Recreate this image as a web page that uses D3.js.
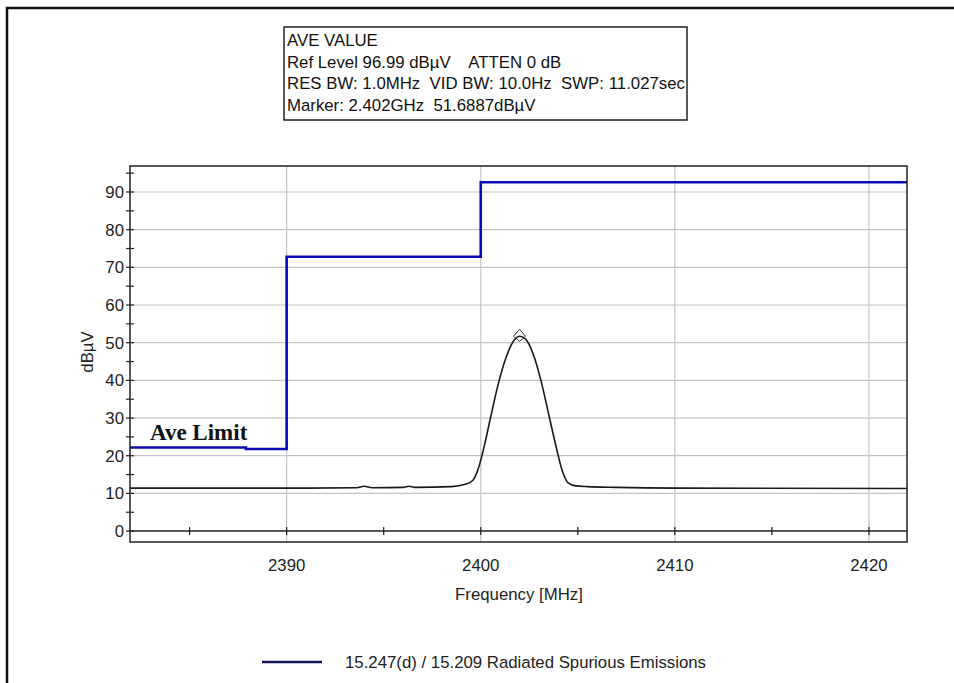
<!DOCTYPE html>
<html><head><meta charset="utf-8">
<script src="https://cdn.jsdelivr.net/npm/d3@7"></script>
<style>body{margin:0;background:#fff}svg{display:block}</style>
</head><body><svg id="c" width="954" height="683"></svg>
<script>
// ---- data ----
const infoLines = ["AVE VALUE","Ref Level 96.99 dBµV    ATTEN 0 dB","RES BW: 1.0MHz  VID BW: 10.0Hz  SWP: 11.027sec","Marker: 2.402GHz  51.6887dBµV"];
const xTicks = [2390, 2400, 2410, 2420];
const xMinor = [2385, 2395, 2405, 2415];
const yTicks = [0, 10, 20, 30, 40, 50, 60, 70, 80, 90];
const yMinor = [5, 15, 25, 35, 45, 55, 65, 75, 85, 95];
const limitFreq = [2381.93, 2387.9, 2387.9, 2390, 2390, 2400, 2400, 2421.96];
const limitLevel = [22.2, 22.2, 21.8, 21.8, 72.8, 72.8, 92.6, 92.6];
const traceFreq = [2381.93,2386,2390,2393.6,2394,2394.4,2396,2396.3,2396.6,2398.5,2399.2,2399.6,2399.9,2400.2,2400.5,2400.9,2401.3,2401.7,2402.0,2402.3,2402.7,2403.1,2403.5,2403.9,2404.2,2404.5,2404.9,2405.5,2407,2410,2421.96];
const traceLevel = [11.4,11.4,11.4,11.5,11.9,11.5,11.6,11.9,11.6,11.8,12.4,13.5,17,23,30,39,46,50.5,51.7,51,47,40,31,22,16,12.8,12.0,11.8,11.6,11.4,11.3];
const markerFreq = 2402.0, markerLevel = 51.69;
const legendLabel = "15.247(d) / 15.209 Radiated Spurious Emissions";
const limitLabel = "Ave Limit";

// ---- layout ----
const svg = d3.select("#c");
const L = 130, R = 907, T = 166, B = 542;
const x = d3.scaleLinear().domain([2381.93, 2421.96]).range([L, R]);
const y = d3.scaleLinear().domain([-2.9, 96.9]).range([B, T]);
const font = "Arial, 'Liberation Sans', sans-serif";
const fs = 16.8;

// outer frame (left + top)
svg.append("path").attr("d","M7,683 V8 H954").attr("fill","none").attr("stroke","#111").attr("stroke-width",2.5);

// info box
const ib = svg.append("g");
ib.append("rect").attr("x",284).attr("y",27).attr("width",403).attr("height",93)
  .attr("fill","#fff").attr("stroke","#222").attr("stroke-width",1.5);
ib.selectAll("text").data(infoLines).join("text")
  .attr("x",287).attr("y",(d,i)=>46+i*21.5)
  .attr("font-family",font).attr("font-size",fs).attr("fill","#111")
  .attr("textLength", (d,i)=> i===2 ? 398 : null)
  .attr("xml:space","preserve").style("white-space","pre").text(d=>d);

// grid
const g = svg.append("g");
g.selectAll(".gx").data(xTicks).join("line")
  .attr("x1",d=>x(d)).attr("x2",d=>x(d)).attr("y1",T).attr("y2",B)
  .attr("stroke","#c4c4c4").attr("stroke-width",1.2);
g.selectAll(".gy").data(yTicks.filter(v=>v>0)).join("line")
  .attr("x1",L).attr("x2",R).attr("y1",d=>y(d)).attr("y2",d=>y(d))
  .attr("stroke","#c4c4c4").attr("stroke-width",1.2);

// zero axis line
g.append("line").attr("x1",L).attr("x2",R).attr("y1",y(0)).attr("y2",y(0)).attr("stroke","#222").attr("stroke-width",1.5);
// x ticks crossing zero line
g.selectAll(".tx").data(xTicks.concat(xMinor)).join("line")
  .attr("x1",d=>x(d)).attr("x2",d=>x(d)).attr("y1",y(0)-4).attr("y2",y(0)+4)
  .attr("stroke","#222").attr("stroke-width",1.2);
// y ticks crossing left axis
g.selectAll(".ty").data(yTicks.concat(yMinor)).join("line")
  .attr("x1",L-4).attr("x2",L+4).attr("y1",d=>y(d)).attr("y2",d=>y(d))
  .attr("stroke","#222").attr("stroke-width",1.2);

// tick labels
g.selectAll(".ly").data(yTicks).join("text")
  .attr("x",L-6).attr("y",d=>y(d)+6).attr("text-anchor","end")
  .attr("font-family",font).attr("font-size",fs).attr("fill","#222").text(d=>d);
g.selectAll(".lx").data(xTicks).join("text")
  .attr("x",d=>x(d)).attr("y",571).attr("text-anchor","middle")
  .attr("font-family",font).attr("font-size",fs).attr("fill","#222").text(d=>d);

// axis titles
svg.append("text").attr("transform","translate(93,352) rotate(-90)").attr("text-anchor","middle")
  .attr("font-family",font).attr("font-size",fs).attr("fill","#222").text("dBµV");
svg.append("text").attr("x",519).attr("y",600).attr("text-anchor","middle")
  .attr("font-family",font).attr("font-size",fs).attr("fill","#222").text("Frequency [MHz]");

// clip
svg.append("clipPath").attr("id","clip").append("rect").attr("x",L).attr("y",T).attr("width",R-L).attr("height",B-T);
const plot = svg.append("g").attr("clip-path","url(#clip)");

// trace
const tr = traceFreq.map((f,i)=>[f,traceLevel[i]]);
plot.append("path").datum(tr)
  .attr("d", d3.line().x(d=>x(d[0])).y(d=>y(d[1])).curve(d3.curveMonotoneX))
  .attr("fill","none").attr("stroke","#1a1a1a").attr("stroke-width",1.6);

// marker diamond
const mx = x(markerFreq), my = y(markerLevel);
plot.append("path").attr("d",`M${mx},${my-7} L${mx+6},${my} L${mx},${my+5} L${mx-6},${my} Z`)
  .attr("fill","none").attr("stroke","#333").attr("stroke-width",1);

// limit line
const lim = limitFreq.map((f,i)=>[f,limitLevel[i]]);
plot.append("path").datum(lim)
  .attr("d", d3.line().x(d=>x(d[0])).y(d=>y(d[1])))
  .attr("fill","none").attr("stroke","#0a0ab4").attr("stroke-width",2.6);

// plot border
svg.append("rect").attr("x",L).attr("y",T).attr("width",R-L).attr("height",B-T)
  .attr("fill","none").attr("stroke","#222").attr("stroke-width",1.5);

// Ave Limit label
svg.append("text").attr("x",150).attr("y",440)
  .attr("font-family","'Liberation Serif', 'Times New Roman', serif").attr("font-weight","bold")
  .attr("font-size",23).attr("fill","#111").text(limitLabel);

// legend
svg.append("line").attr("x1",262).attr("x2",322).attr("y1",662).attr("y2",662)
  .attr("stroke","#14145a").attr("stroke-width",2.5);
svg.append("text").attr("x",345).attr("y",668).attr("font-family",font).attr("font-size",fs)
  .attr("fill","#222").text(legendLabel);
</script></body></html>
